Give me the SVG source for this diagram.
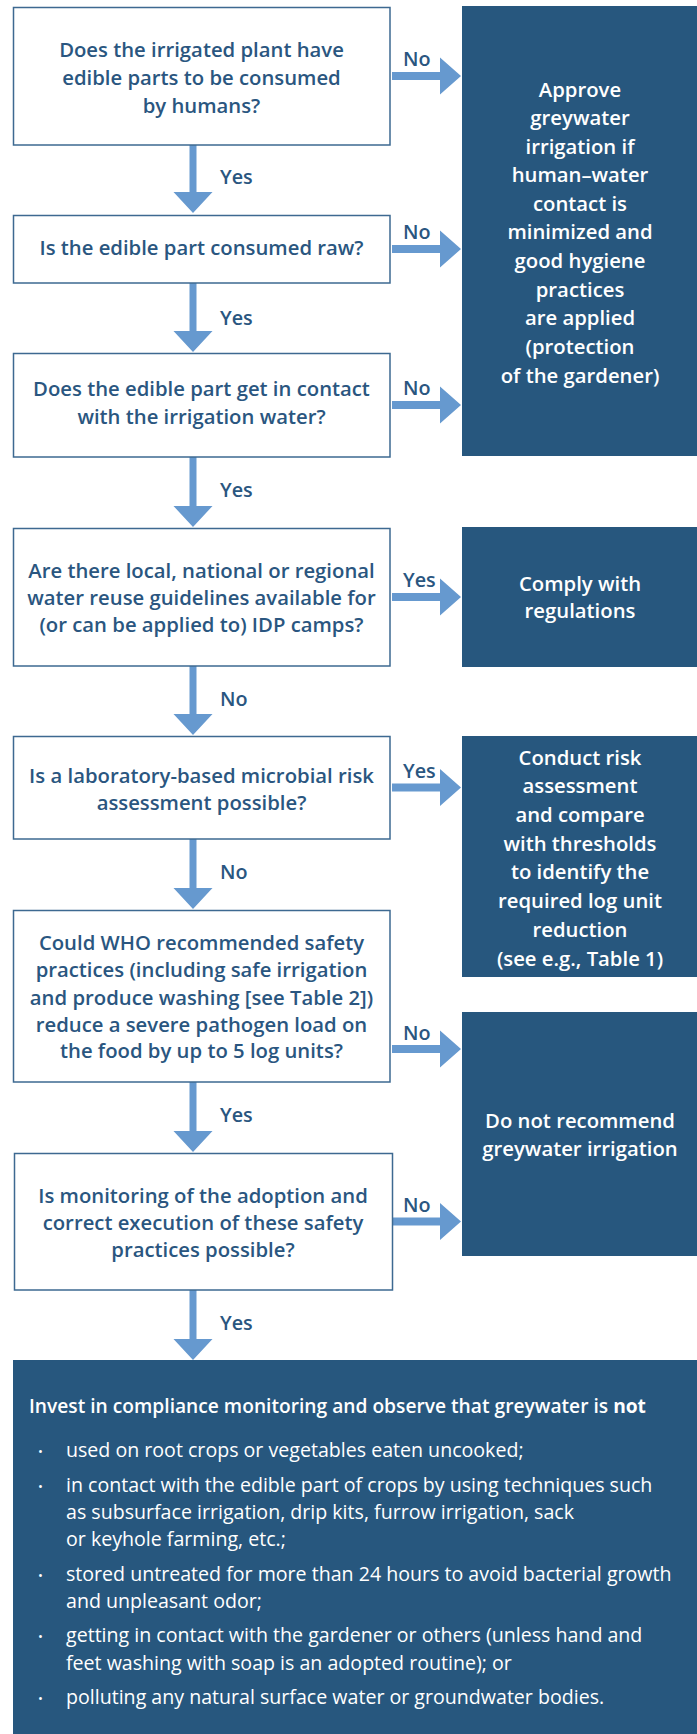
<svg xmlns="http://www.w3.org/2000/svg" width="697" height="1734" viewBox="0 0 697 1734">
<style>
.q{fill:#fff;stroke:#3d6991;stroke-width:1.5}
.d{fill:#27577e}
.arr{fill:#6699cf}
.t{font-family:"Open Sans","Liberation Sans",sans-serif;font-weight:600;font-size:20.3px;fill:#2a5680;text-anchor:middle}
.w{font-family:"Open Sans","Liberation Sans",sans-serif;font-weight:600;font-size:20.3px;fill:#fff;text-anchor:middle}
.l{font-family:"Open Sans","Liberation Sans",sans-serif;font-weight:600;font-size:19.8px;fill:#2a5680}
.b{font-family:"Open Sans","Liberation Sans",sans-serif;font-weight:400;font-size:19.6px;fill:#fff}
.bh{font-family:"Open Sans","Liberation Sans",sans-serif;font-weight:600;font-size:19.2px;fill:#fff}
.bu{font-family:"Open Sans","Liberation Sans",sans-serif;font-size:13px;fill:#fff}
</style>
<rect width="697" height="1734" fill="#fff"/>
<g id="connectors">
<path class="arr" d="M189.5,145 H196.5 V192 H212.5 L193,213 L173.5,192 H189.5 Z"/>
<path class="arr" d="M189.5,283 H196.5 V331 H212.5 L193,352 L173.5,331 H189.5 Z"/>
<path class="arr" d="M189.5,457 H196.5 V506 H212.5 L193,527 L173.5,506 H189.5 Z"/>
<path class="arr" d="M189.5,666 H196.5 V714 H212.5 L193,735 L173.5,714 H189.5 Z"/>
<path class="arr" d="M189.5,839 H196.5 V888 H212.5 L193,909 L173.5,888 H189.5 Z"/>
<path class="arr" d="M189.5,1082 H196.5 V1131 H212.5 L193,1152 L173.5,1131 H189.5 Z"/>
<path class="arr" d="M189.5,1290 H196.5 V1339 H212.5 L193,1360 L173.5,1339 H189.5 Z"/>
<path class="arr" d="M392,72 H440 V57.5 L461,76 L440,94.5 V80 H392 Z"/>
<path class="arr" d="M392,245 H440 V230.5 L461,249 L440,267.5 V253 H392 Z"/>
<path class="arr" d="M392,401 H440 V386.5 L461,405 L440,423.5 V409 H392 Z"/>
<path class="arr" d="M392,593 H440 V578.5 L461,597 L440,615.5 V601 H392 Z"/>
<path class="arr" d="M392,783.5 H440 V769 L461,787.5 L440,806 V791.5 H392 Z"/>
<path class="arr" d="M392,1045 H440 V1030.5 L461,1049 L440,1067.5 V1053 H392 Z"/>
<path class="arr" d="M392,1217.5 H440 V1203 L461,1221.5 L440,1240 V1225.5 H392 Z"/>
<text class="l" x="220" y="184">Yes</text>
<text class="l" x="220" y="325">Yes</text>
<text class="l" x="220" y="497">Yes</text>
<text class="l" x="220" y="706">No</text>
<text class="l" x="220" y="879">No</text>
<text class="l" x="220" y="1122">Yes</text>
<text class="l" x="220" y="1330">Yes</text>
<text class="l" x="403" y="66">No</text>
<text class="l" x="403" y="239">No</text>
<text class="l" x="403" y="395">No</text>
<text class="l" x="403" y="587">Yes</text>
<text class="l" x="403" y="778">Yes</text>
<text class="l" x="403" y="1040">No</text>
<text class="l" x="403" y="1212">No</text>
</g>
<g id="q1">
<rect class="q" x="13.5" y="7.5" width="376.5" height="137.5"/>
<text class="t" x="201.5" y="57">Does the irrigated plant have</text>
<text class="t" x="201.5" y="85">edible parts to be consumed</text>
<text class="t" x="201.5" y="113">by humans?</text>
</g>
<g id="q2">
<rect class="q" x="13.5" y="215.5" width="376.5" height="67.5"/>
<text class="t" x="201.5" y="255">Is the edible part consumed raw?</text>
</g>
<g id="q3">
<rect class="q" x="13.5" y="353.5" width="376.5" height="103.5"/>
<text class="t" x="201.5" y="396">Does the edible part get in contact</text>
<text class="t" x="201.5" y="424">with the irrigation water?</text>
</g>
<g id="q4">
<rect class="q" x="13.5" y="528.5" width="376.5" height="137.5"/>
<text class="t" x="201.5" y="578">Are there local, national or regional</text>
<text class="t" x="201.5" y="605">water reuse guidelines available for</text>
<text class="t" x="201.5" y="632">(or can be applied to) IDP camps?</text>
</g>
<g id="q5">
<rect class="q" x="13.5" y="736.5" width="376.5" height="102.5"/>
<text class="t" x="201.5" y="783">Is a laboratory-based microbial risk</text>
<text class="t" x="201.5" y="810">assessment possible?</text>
</g>
<g id="q6">
<rect class="q" x="13.5" y="910.5" width="376.5" height="171.5"/>
<text class="t" x="201.5" y="950">Could WHO recommended safety</text>
<text class="t" x="201.5" y="977">practices (including safe irrigation</text>
<text class="t" x="201.5" y="1005">and produce washing [see Table 2])</text>
<text class="t" x="201.5" y="1032">reduce a severe pathogen load on</text>
<text class="t" x="201.5" y="1058">the food by up to 5 log units?</text>
</g>
<g id="q7">
<rect class="q" x="14.5" y="1153.5" width="378" height="136.5"/>
<text class="t" x="203" y="1203">Is monitoring of the adoption and</text>
<text class="t" x="203" y="1230">correct execution of these safety</text>
<text class="t" x="203" y="1257">practices possible?</text>
</g>
<g id="approve">
<rect class="d" x="462" y="6" width="235" height="450"/>
<text class="w" x="580" y="97">Approve</text>
<text class="w" x="580" y="125">greywater</text>
<text class="w" x="580" y="154">irrigation if</text>
<text class="w" x="580" y="182">human–water</text>
<text class="w" x="580" y="211">contact is</text>
<text class="w" x="580" y="239">minimized and</text>
<text class="w" x="580" y="268">good hygiene</text>
<text class="w" x="580" y="297">practices</text>
<text class="w" x="580" y="325">are applied</text>
<text class="w" x="580" y="354">(protection</text>
<text class="w" x="580" y="383">of the gardener)</text>
</g>
<g id="comply">
<rect class="d" x="462" y="527" width="235" height="140"/>
<text class="w" x="580" y="591">Comply with</text>
<text class="w" x="580" y="618">regulations</text>
</g>
<g id="conduct">
<rect class="d" x="462" y="736" width="235" height="241"/>
<text class="w" x="580" y="765">Conduct risk</text>
<text class="w" x="580" y="793">assessment</text>
<text class="w" x="580" y="822">and compare</text>
<text class="w" x="580" y="851">with thresholds</text>
<text class="w" x="580" y="879">to identify the</text>
<text class="w" x="580" y="908">required log unit</text>
<text class="w" x="580" y="937">reduction</text>
<text class="w" x="580" y="966">(see e.g., Table 1)</text>
</g>
<g id="donot">
<rect class="d" x="462" y="1012" width="235" height="244"/>
<text class="w" x="580" y="1128">Do not recommend</text>
<text class="w" x="580" y="1156">greywater irrigation</text>
</g>
<g id="invest">
<rect class="d" x="13" y="1360" width="684" height="374"/>
<text class="bh" x="29" y="1413">Invest in compliance monitoring and observe that greywater is <tspan font-weight="700">not</tspan></text>
<text class="bu" x="38" y="1456">•</text>
<text class="b" x="66" y="1457">used on root crops or vegetables eaten uncooked;</text>
<text class="bu" x="38" y="1491">•</text>
<text class="b" x="66" y="1492">in contact with the edible part of crops by using techniques such</text>
<text class="b" x="66" y="1519">as subsurface irrigation, drip kits, furrow irrigation, sack</text>
<text class="b" x="66" y="1546">or keyhole farming, etc.;</text>
<text class="bu" x="38" y="1580">•</text>
<text class="b" x="66" y="1581">stored untreated for more than 24 hours to avoid bacterial growth</text>
<text class="b" x="66" y="1608">and unpleasant odor;</text>
<text class="bu" x="38" y="1641">•</text>
<text class="b" x="66" y="1642">getting in contact with the gardener or others (unless hand and</text>
<text class="b" x="66" y="1670">feet washing with soap is an adopted routine); or</text>
<text class="bu" x="38" y="1703">•</text>
<text class="b" x="66" y="1704">polluting any natural surface water or groundwater bodies.</text>
</g>
</svg>
